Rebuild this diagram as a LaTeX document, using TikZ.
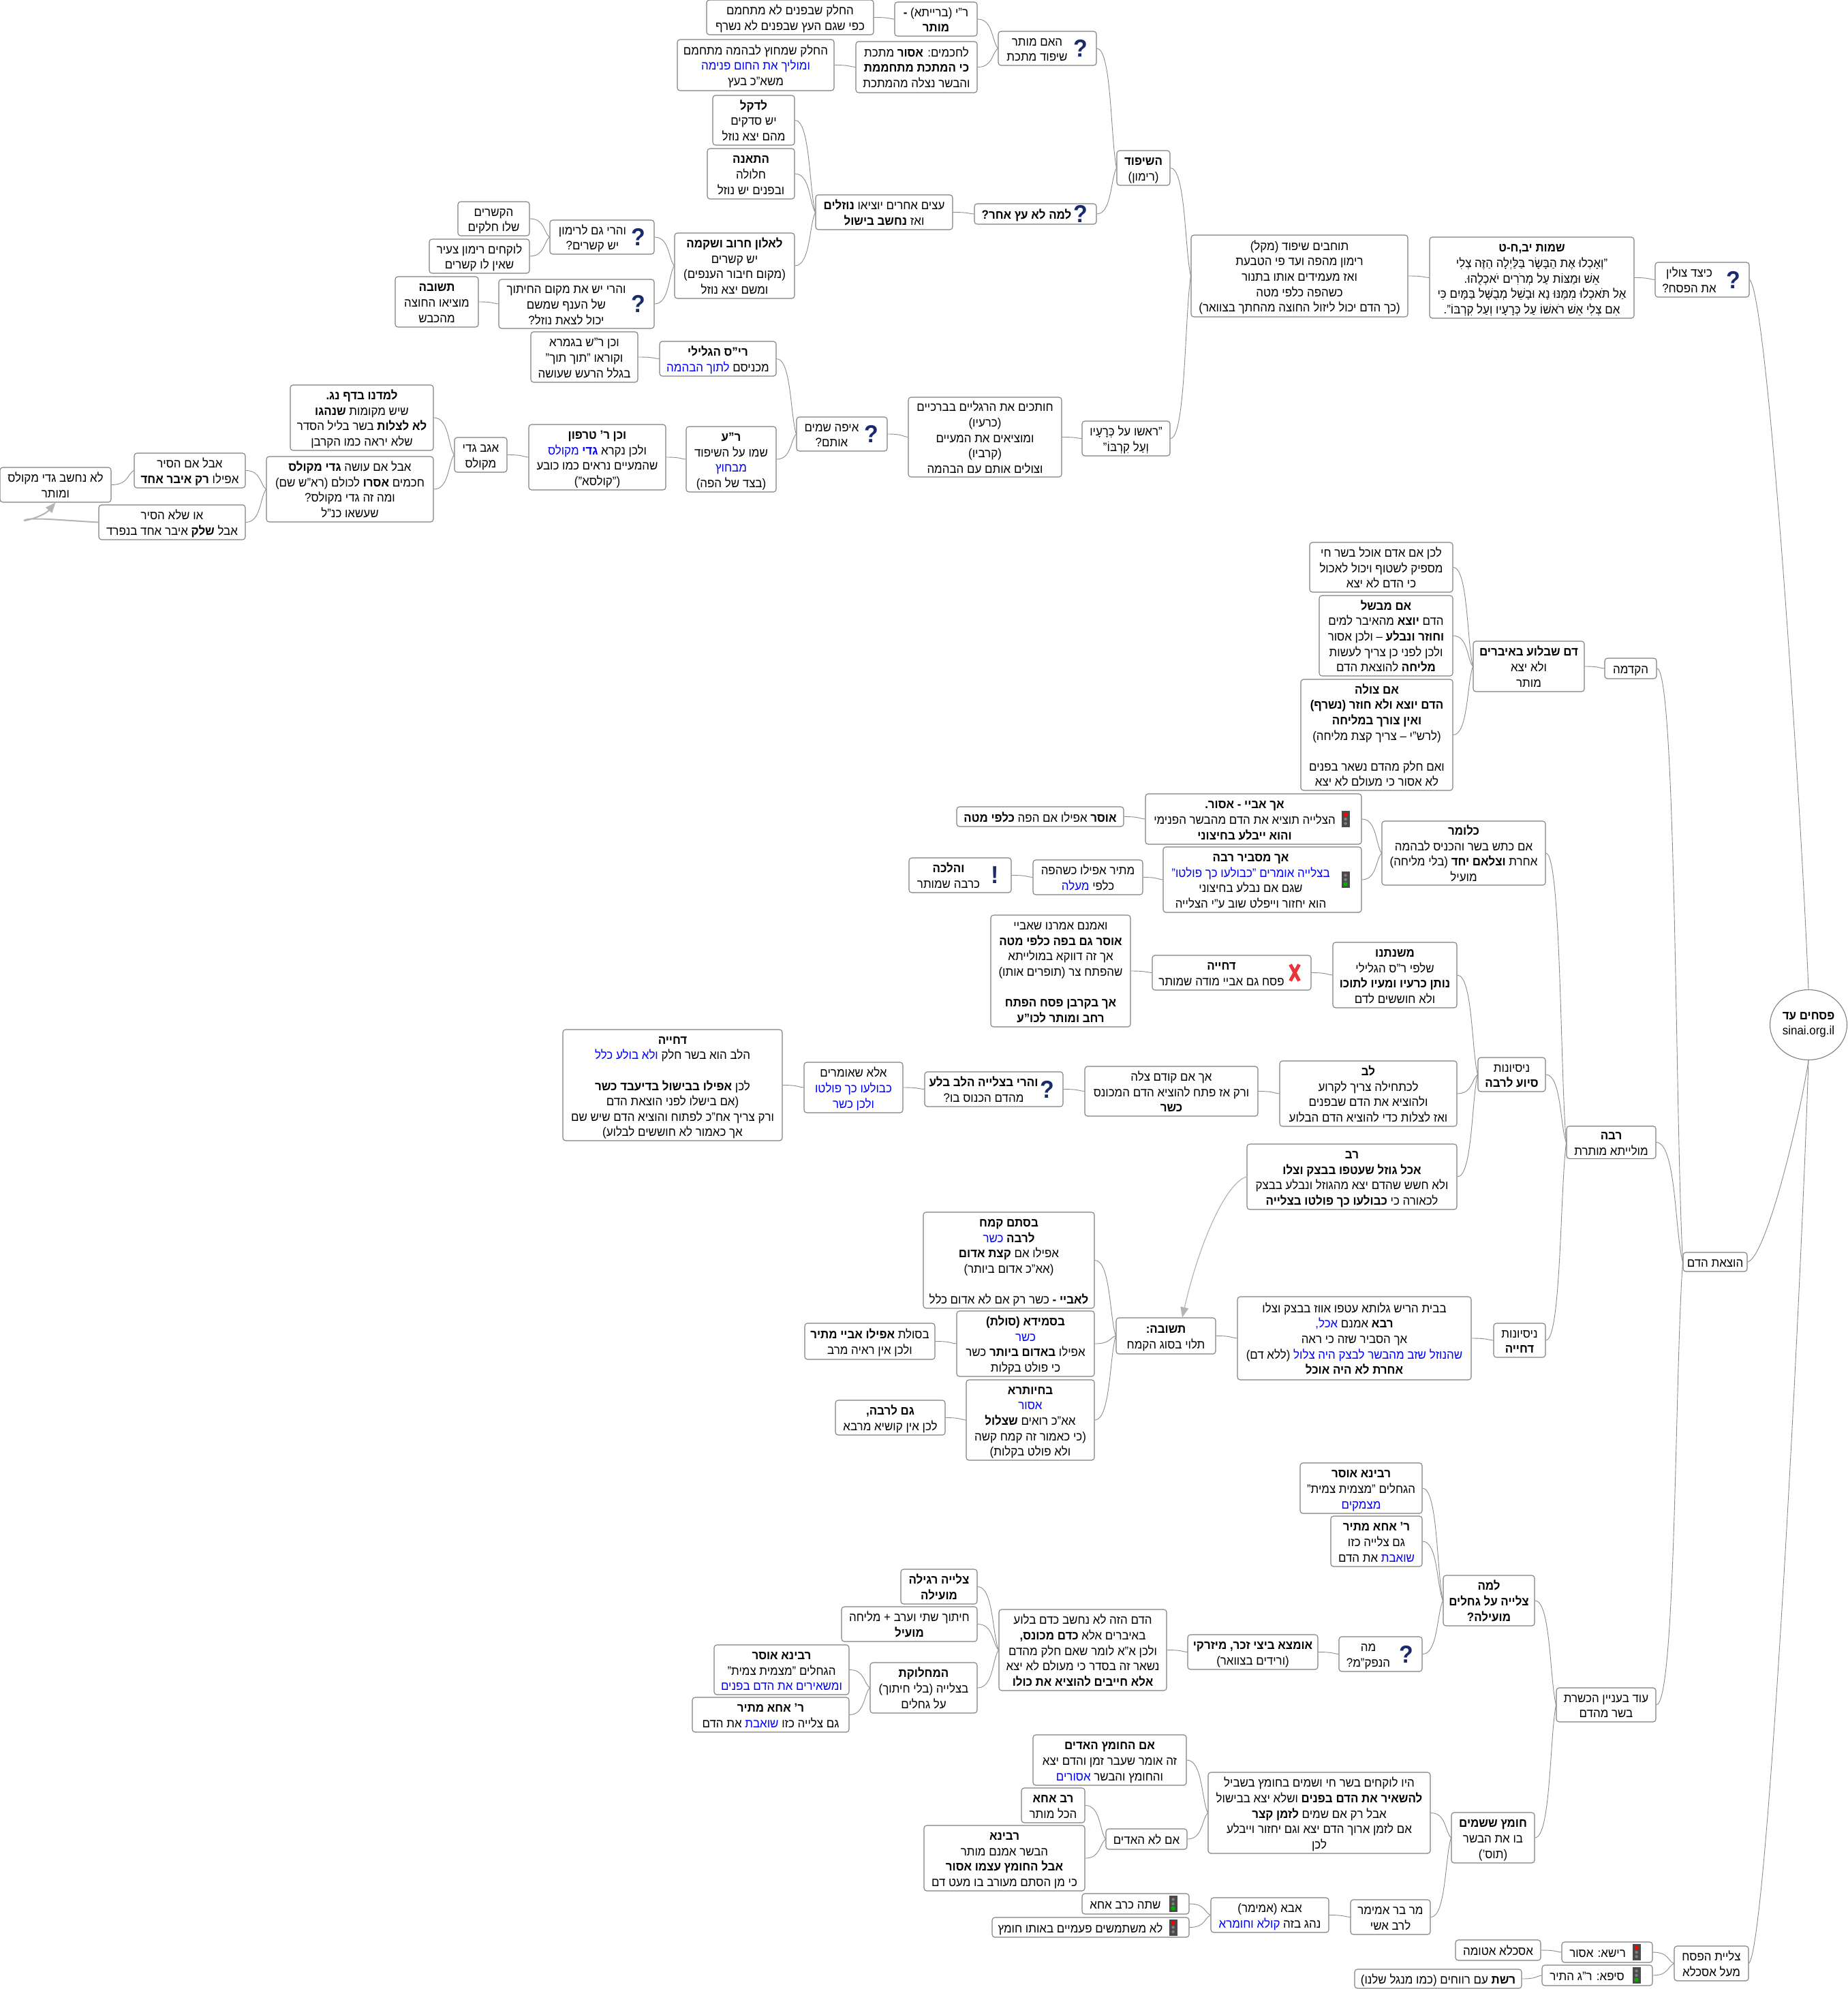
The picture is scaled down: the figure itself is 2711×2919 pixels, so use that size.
\documentclass[tikz,border=0pt]{standalone}
\usepackage{fontspec}
\setmainfont[Script=Hebrew,FakeStretch=0.94]{Liberation Sans}
\usetikzlibrary{calc,arrows.meta,shapes.geometric}
\TeXXeTstate=1
\newcommand\h[1]{\beginR #1\endR}
\newcommand\B[1]{\textbf{#1}}
\newcommand\C[1]{{\addfontfeature{Color=0000FF}#1}}
\newcommand\E{\mbox{}}
\newcommand\TT{\rule{0pt}{20pt}}
\newcommand\BB{\rule[-5pt]{0pt}{5pt}}
\tikzset{
 txts/.style={align=center,inner sep=0pt,font=\fontsize{18}{22.6}\selectfont,text=black},
 bxs/.style={txts,draw=boxgray,fill=white,rounded corners=4pt,line width=1.1pt},
 lnk/.style={draw=linkgray,line width=0.9pt},
 rel/.style={draw=relgray,line width=1.2pt,-{Triangle[length=15pt,width=12pt,fill=relgray]}},
 qm/.style={inner sep=0pt,font=\fontsize{36}{36}\selectfont\bfseries,text=iconblue},
 tl/.style={draw=none,fill=tlgray,minimum width=12pt,minimum height=24pt,inner sep=0pt}
}
\definecolor{boxgray}{HTML}{808080}
\definecolor{linkgray}{HTML}{8C8C8C}
\definecolor{relgray}{HTML}{B4B4B4}
\definecolor{iconblue}{HTML}{1A2B6D}
\definecolor{tlgray}{HTML}{4A4A4A}
\definecolor{xred}{HTML}{E8353A}
\newcommand\bx[6]{\node[bxs,minimum width={#4-#2},minimum height={#5-#3}] (#1) at ({(#2+#4)/2},{-(#3+#5)/2}) {\TT#6\BB};}
% box with an icon at its right end: text shifted left by #2
\newcommand\ibx[7]{\node[bxs,minimum width={#5-#3},minimum height={#6-#4}] (#1) at ({(#3+#5)/2},{-(#4+#6)/2}) {};
 \node[txts] (#1t) at ($(#1.center)+(#2,0)$) {\TT#7\BB};}
\newcommand\conn[2]{\draw[lnk] let \p1=(#1.east),\p2=(#2.west),\n1={\x2-\x1},\n2={\y2-\y1} in (\p1) .. controls +(0.75*\n1,0) and +(-0.3*\n1,-0.25*\n2) .. (\p2);}
\newcommand\connr[2]{\draw[lnk] let \p1=(#1.east),\p2=(#2),\n1={\x2-\x1},\n2={\y2-\y1} in (\p1) .. controls +(0.3*\n1,0.02*\n2) and +(-0.15*\n1,-0.3*\n2) .. (\p2);}
\newcommand\qmk[1]{\node[qm] (#1q) at ($(#1.east)+(-24,0)$) {?};}
\newcommand\tlr[1]{\node[tl] (#1l) at ($(#1.east)+(-24,0)$) {};
 \fill[red] ($(#1l.center)+(0,6.5)$) circle (3pt);
 \fill[gray] (#1l.center) circle (2.2pt);\fill[gray] ($(#1l.center)+(0,-6.5)$) circle (2.2pt);}
\newcommand\tlg[1]{\node[tl] (#1l) at ($(#1.east)+(-24,0)$) {};
 \fill[gray] ($(#1l.center)+(0,6.5)$) circle (2.2pt);
 \fill[gray] (#1l.center) circle (2.2pt);\fill[green!70!black] ($(#1l.center)+(0,-6.5)$) circle (3.2pt);}
\begin{document}
\begin{tikzpicture}[x=1pt,y=1pt]
\useasboundingbox (0,-2919) rectangle (2711,0);
\fill[white] (0,-2919) rectangle (2711,0);
% root
\node[draw=boxgray,fill=white,line width=1.1pt,ellipse,inner sep=0pt,minimum width=113pt,minimum height=103pt,align=center,font=\fontsize{18}{22.6}\selectfont] (root) at (2654,-1504) {\h{\B{פסחים עד}}\\\mbox{sinai.org.il}};
% ---- top branch
\ibx{ktz}{-19}{2429}{385}{2567}{436}{\h{כיצד צולין}\\\h{את הפסח?}}\qmk{ktz}
\bx{shmot}{2098}{348}{2398}{467}{\h{\B{שמות יב,ח-ט}}\\\h{"וְאָכְלוּ אֶת הַבָּשָׂר בַּלַּיְלָה הַזֶּה צְלִי}\\\h{אֵשׁ וּמַצּוֹת עַל מְרֹרִים יֹאכְלֻהוּ.}\\\h{אַל תֹּאכְלוּ מִמֶּנּוּ נָא וּבָשֵׁל מְבֻשָּׁל בַּמָּיִם כִּי}\\\h{אִם צְלִי אֵשׁ רֹאשׁוֹ עַל כְּרָעָיו וְעַל קִרְבּוֹ".}}
\bx{tochvim}{1748}{345}{2066}{465}{\h{תוחבים שיפוד (מקל)}\\\h{רימון מהפה ועד פי הטבעת}\\\h{ואז מעמידים אותו בתנור}\\\h{כשהפה כלפי מטה}\\\h{(כך הדם יכול ליזול החוצה מהחתך בצוואר)}}
\bx{hashipud}{1639}{221}{1717}{272}{\h{\B{השיפוד}}\\\h{(רימון)}}
\ibx{haim}{-15}{1465}{46}{1609}{96}{\h{האם מותר}\\\h{שיפוד מתכת}}\qmk{haim}
\bx{ri}{1313}{3}{1434}{53}{\h{ר"י (ברייתא) \B{-}}\\\h{\B{מותר}}}
\bx{hachamim}{1256}{61}{1434}{136}{\h{לחכמים: \B{אסור} מתכת}\\\h{\B{כי המתכת מתחממת}}\\\h{והבשר נצלה מהמתכת}}
\bx{helek}{1037}{0}{1282}{51}{\h{החלק שבפנים לא מתחמם}\\\h{כפי שגם העץ שבפנים לא נשרף}}
\bx{helekb}{994}{58}{1224}{133}{\h{החלק שמחוץ לבהמה מתחמם}\\\h{\C{ומוליך את החום פנימה}}\\\h{משא"כ בעץ}}
\ibx{lama}{-13}{1430}{299}{1609}{329}{\h{\B{למה לא עץ אחר?}}}\qmk{lama}
\bx{etzim}{1197}{286}{1398}{337}{\h{עצים אחרים יוציאו \B{נוזלים}}\\\h{ואז \B{נחשב בישול}}}
\bx{dekel}{1046}{140}{1166}{213}{\h{\B{לדקל}}\\\h{יש סדקים}\\\h{מהם יצא נוזל}}
\bx{teena}{1038}{218}{1166}{292}{\h{\B{התאנה}}\\\h{חלולה}\\\h{ובפנים יש נוזל}}
\bx{alon}{990}{342}{1166}{438}{\h{\B{לאלון חרוב ושקמה}}\\\h{יש קשרים}\\\h{(מקום חיבור הענפים)}\\\h{ומשם יצא נוזל}}
\ibx{hario}{-14}{807}{323}{960}{373}{\h{והרי גם לרימון}\\\h{יש קשרים?}}\qmk{hario}
\ibx{harib}{-15}{732}{410}{960}{482}{\h{והרי יש את מקום החיתוך}\\\h{של הענף שמשם}\\\h{יכול לצאת נוזל?}}\qmk{harib}
\bx{ksharim}{672}{296}{777}{346}{\h{הקשרים}\\\h{שלו חלקים}}
\bx{lokchim}{630}{351}{777}{401}{\h{לוקחים רימון צעיר}\\\h{שאין לו קשרים}}
\bx{tshuva}{580}{406}{702}{480}{\h{\B{תשובה}}\\\h{מוציאו החוצה}\\\h{מהכבש}}
\bx{rosho}{1588}{618}{1717}{669}{\h{"ראשו על כְּרָעָיו}\\\h{וְעַל קִרְבּוֹ"}}
\bx{hotchim}{1333}{583}{1558}{700}{\h{חותכים את הרגליים בברכיים}\\\h{(כרעיו)}\\\h{ומוציאים את המעיים}\\\h{(קרביו)}\\\h{וצולים אותם עם הבהמה}}
\ibx{eifo}{-15}{1169}{612}{1302}{662}{\h{איפה שמים}\\\h{אותם?}}\qmk{eifo}
\bx{ris}{968}{501}{1139}{552}{\h{\B{רי"ס הגלילי}}\\\h{מכניסם \C{לתוך הבהמה}}}
\bx{rs}{779}{487}{936}{561}{\h{וכן ר"ש בגמרא}\\\h{וקוראו "תוך תוך"}\\\h{בגלל הרעש שעושה}}
\bx{ra}{1007}{626}{1139}{722}{\h{\B{ר"ע}}\\\h{שמו על השיפוד}\\\h{\C{מבחוץ}}\\\h{(בצד של הפה)}}
\bx{tarfon}{776}{623}{977}{719}{\h{\B{וכן ר' טרפון}}\\\h{ולכן נקרא \C{\B{גדי} מקולס}}\\\h{שהמעיים נראים כמו כובע}\\\h{("קולסא")}}
\bx{agav}{667}{642}{744}{693}{\h{אגב גדי}\\\h{מקולס}}
\bx{lamadnu}{426}{565}{636}{661}{\h{\B{למדנו בדף נג.}}\\\h{שיש מקומות \B{שנהגו}}\\\h{\B{לא לצלות} בשר בליל הסדר}\\\h{שלא יראה כמו הקרבן}}
\bx{aval}{391}{670}{636}{766}{\h{אבל אם עושה \B{גדי מקולס}}\\\h{חכמים \B{אסרו} לכולם (רא"ש שם)}\\\h{ומה זה גדי מקולס?}\\\h{שעשאו כנ"ל}}
\bx{asir}{197}{665}{360}{716}{\h{אבל אם הסיר}\\\h{אפילו \B{רק איבר אחד}}}
\bx{oshelo}{145}{741}{360}{792}{\h{או שלא הסיר}\\\h{אבל \B{שלק} איבר אחד בנפרד}}
\bx{lonech}{0}{686}{163}{737}{\h{לא נחשב גדי מקולס}\\\h{ומותר}}
% ---- middle branch
\bx{hd}{2470}{1838}{2564}{1866}{\h{הוצאת הדם}}
\bx{hakdama}{2355}{966}{2431}{996}{\h{הקדמה}}
\bx{dam}{2162}{941}{2325}{1015}{\h{\B{דם שבלוע באיברים}}\\\h{ולא יצא}\\\h{מותר}}
\bx{lachen}{1922}{796}{2132}{869}{\h{לכן אם אדם אוכל בשר חי}\\\h{מספיק לשטוף ויכול לאכול}\\\h{כי הדם לא יצא}}
\bx{mevashel}{1936}{874}{2132}{992}{\h{\B{אם מבשל}}\\\h{הדם \B{יוצא} מהאיבר למים}\\\h{\B{וחוזר ונבלע} – ולכן אסור}\\\h{ולכן לפני כן צריך לעשות}\\\h{\B{מליחה} להוצאת הדם}}
\bx{tzole}{1909}{997}{2132}{1160}{\h{\B{אם צולה}}\\\h{\B{הדם יוצא ולא חוזר (נשרף)}}\\\h{\B{ואין צורך במליחה}}\\\h{(לרש"י – צריך קצת מליחה)}\\\E\\\h{ואם חלק מהדם נשאר בפנים}\\\h{לא אסור כי מעולם לא יצא}}
\bx{raba}{2299}{1653}{2430}{1700}{\h{\B{רבה}}\\\h{מולייתא מותרת}}
\bx{klomar}{2028}{1205}{2268}{1299}{\h{\B{כלומר}}\\\h{אם כתש בשר והכניס לבהמה}\\\h{אחרת \B{וצלאם יחד} (בלי מליחה)}\\\h{מועיל}}
\ibx{abaye}{-13}{1681}{1165}{1998}{1239}{\h{\B{אך אביי - אסור.}}\\\h{הצלייה תוציא את הדם מהבשר הפנימי}\\\h{\B{והוא ייבלע בחיצוני}}}\tlr{abaye}
\bx{oser}{1404}{1184}{1649}{1213}{\h{\B{אוסר} אפילו אם הפה \B{כלפי מטה}}}
\ibx{mesbir}{-17}{1707}{1243}{1998}{1339}{\h{\B{אך מסביר רבה}}\\\h{\C{בצלייה אומרים "כבולעו כך פולטו"}}\\\h{שגם אם נבלע בחיצוני}\\\h{הוא יחזור וייפלט שוב ע"י הצלייה}}\tlg{mesbir}
\bx{matir}{1516}{1262}{1677}{1313}{\h{מתיר אפילו כשהפה}\\\h{כלפי \C{מעלה}}}
\ibx{halacha}{-17}{1334}{1259}{1484}{1310}{\h{\B{והלכה}}\\\h{כרבה שמותר}}\node[qm] (halachaq) at ($(halacha.east)+(-24,0)$) {!};
\bx{nisa}{2169}{1552}{2268}{1602}{\h{ניסיונות}\\\h{\B{סיוע לרבה}}}
\bx{mish}{1956}{1383}{2138}{1479}{\h{\B{משנתנו}}\\\h{שלפי ר"ס הגלילי}\\\h{\B{נותן כרעיו ומעיו לתוכו}}\\\h{ולא חוששים לדם}}
\ibx{dch}{-15}{1691}{1402}{1924}{1453}{\h{\B{דחייה}}\\\h{פסח גם אביי מודה שמותר}}
\draw[xred,line width=5pt] ($(dch.east)+(-31,12)$) -- ($(dch.east)+(-18,-12)$) ($(dch.east)+(-18,12)$) -- ($(dch.east)+(-31,-12)$);
\bx{veum}{1454}{1343}{1659}{1507}{\h{ואמנם אמרנו שאביי}\\\h{\B{אוסר גם בפה כלפי מטה}}\\\h{אך זה דווקא במולייתא}\\\h{שהפתח צר (תופרים אותו)}\\\E\\\h{\B{אך בקרבן פסח הפתח}}\\\h{\B{רחב ומותר לכו"ע}}}
\bx{lev}{1878}{1557}{2138}{1653}{\h{\B{לב}}\\\h{לכתחילה צריך לקרוע}\\\h{ולהוציא את הדם שבפנים}\\\h{ואז לצלות כדי להוציא הדם הבלוע}}
\bx{achim}{1592}{1565}{1846}{1638}{\h{אך אם קודם צלה}\\\h{ורק אז פתח להוציא הדם המכונס}\\\h{\B{כשר}}}
\ibx{hariv}{-15}{1357}{1573}{1560}{1624}{\h{\B{והרי בצלייה הלב בלע}}\\\h{מהדם הכנוס בו?}}\qmk{hariv}
\bx{ela}{1180}{1559}{1325}{1633}{\h{אלא שאומרים}\\\h{\C{כבולעו כך פולטו}}\\\h{\C{ולכן כשר}}}
\bx{dchb}{826}{1511}{1148}{1674}{\h{\B{דחייה}}\\\h{הלב הוא בשר חלק \C{ולא בולע כלל}}\\\E\\\h{לכן \B{אפילו בבישול בדיעבד כשר}}\\\h{(אם בישלו לפני הוצאת הדם}\\\h{ורק צריך אח"כ לפתוח והוציא הדם שיש שם}\\\h{אך כאמור לא חוששים לבלוע)}}
\bx{rav}{1830}{1679}{2138}{1775}{\h{\B{רב}}\\\h{\B{אכל גוזל שעטפו בבצק וצלו}}\\\h{ולא חשש שהדם יצא מהגוזל ונבלע בבצק}\\\h{לכאורה כי \B{כבולעו כך פולטו בצלייה}}}
\bx{nisb}{2192}{1942}{2268}{1992}{\h{ניסיונות}\\\h{\B{דחייה}}}
\bx{beit}{1816}{1903}{2159}{2025}{\h{בבית הריש גלותא עטפו אווז בבצק וצלו}\\\h{\B{רבא} אמנם \C{אכל,}}\\\h{אך הסביר שזה כי ראה}\\\h{\C{שהנוזל שזב מהבשר לבצק היה צלול} (ללא דם)}\\\h{\B{אחרת לא היה אוכל}}}
\bx{tsb}{1638}{1934}{1784}{1987}{\h{\B{תשובה:}}\\\h{תלוי בסוג הקמח}}
\bx{stam}{1355}{1779}{1606}{1920}{\h{\B{בסתם קמח}}\\\h{\B{לרבה} \C{כשר}}\\\h{אפילו אם \B{קצת אדום}}\\\h{(אא"כ אדום ביותר)}\\\E\\\h{\B{לאביי -} כשר רק אם לא אדום כלל}}
\bx{smida}{1404}{1924}{1606}{2020}{\h{\B{בסמידא (סולת)}}\\\h{\C{כשר}}\\\h{אפילו \B{באדום ביותר} כשר}\\\h{כי פולט בקלות}}
\bx{solet}{1181}{1942}{1372}{1995}{\h{בסולת \B{אפילו אביי מתיר}}\\\h{ולכן אין ראיה מרב}}
\bx{chiv}{1418}{2025}{1606}{2143}{\h{\B{בחיותרא}}\\\h{\C{אסור}}\\\h{אא"כ רואים \B{שצלול}}\\\h{(כי כאמור זה קמח קשה}\\\h{ולא פולט בקלות)}}
\bx{gamr}{1226}{2055}{1387}{2106}{\h{\B{גם לרבה,}}\\\h{לכן אין קושיא מרבא}}
% ---- lower branch
\bx{od}{2284}{2477}{2430}{2527}{\h{עוד בעניין הכשרת}\\\h{בשר מהדם}}
\bx{lamab}{2118}{2312}{2252}{2386}{\h{\B{למה}}\\\h{\B{צלייה על גחלים}}\\\h{\B{מועילה?}}}
\bx{ravina}{1908}{2147}{2087}{2221}{\h{\B{רבינא אוסר}}\\\h{הגחלים "מצמית צמית"}\\\h{\C{מצמקים}}}
\bx{acha}{1953}{2225}{2087}{2299}{\h{\B{ר' אחא מתיר}}\\\h{גם צלייה כזו}\\\h{\C{שואבת} את הדם}}
\ibx{mah}{-18}{1965}{2402}{2087}{2453}{\h{מה}\\\h{הנפק"מ?}}\qmk{mah}
\bx{umtza}{1743}{2399}{1934}{2450}{\h{\B{אומצא ביצי זכר, מיזרקי}}\\\h{(ורידים בצוואר)}}
\bx{hadam}{1466}{2362}{1712}{2481}{\h{הדם הזה לא נחשב כדם בלוע}\\\h{באיברים אלא \B{כדם מכונס,}}\\\h{ולכן א"א לומר שאם חלק מהדם}\\\h{נשאר זה בסדר כי מעולם לא יצא}\\\h{\B{אלא חייבים להוציא את כולו}}}
\bx{tzl}{1322}{2303}{1434}{2354}{\h{\B{צלייה רגילה}}\\\h{\B{מועילה}}}
\bx{chit}{1235}{2358}{1434}{2409}{\h{חיתוך שתי וערב + מליחה}\\\h{\B{מועיל}}}
\bx{mach}{1277}{2440}{1434}{2514}{\h{\B{המחלוקת}}\\\h{בצלייה (בלי חיתוך)}\\\h{על גחלים}}
\bx{ravb}{1048}{2414}{1246}{2487}{\h{\B{רבינא אוסר}}\\\h{הגחלים "מצמית צמית"}\\\h{\C{ומשאירים את הדם בפנים}}}
\bx{achb}{1016}{2491}{1246}{2542}{\h{\B{ר' אחא מתיר}}\\\h{גם צלייה כזו \C{שואבת} את הדם}}
\bx{chom}{2130}{2660}{2252}{2734}{\h{\B{חומץ ששמים}}\\\h{בו את הבשר}\\\h{(תוס')}}
\bx{hayu}{1773}{2601}{2099}{2720}{\h{היו לוקחים בשר חי ושמים בחומץ בשביל}\\\h{\B{להשאיר את הדם בפנים} ושלא יצא בבישול}\\\h{אבל רק אם שמים \B{לזמן קצר}}\\\h{אם לזמן ארוך הדם יצא וגם יחזור וייבלע}\\\h{לכן}}
\bx{imch}{1516}{2546}{1741}{2620}{\h{\B{אם החומץ האדים}}\\\h{זה אומר שעבר זמן והדם יצא}\\\h{והחומץ והבשר \C{אסורים}}}
\bx{imlo}{1623}{2684}{1742}{2714}{\h{אם לא האדים}}
\bx{rava}{1499}{2624}{1592}{2675}{\h{\B{רב אחא}}\\\h{הכל מותר}}
\bx{ravc}{1356}{2679}{1592}{2775}{\h{\B{רבינא}}\\\h{הבשר אמנם מותר}\\\h{\B{אבל החומץ עצמו אסור}}\\\h{כי מן הסתם מעורב בו מעט דם}}
\bx{mar}{1982}{2788}{2099}{2839}{\h{מר בר אמימר}\\\h{לרב אשי}}
\bx{abba}{1777}{2785}{1950}{2836}{\h{אבא (אמימר)}\\\h{נהג בזה \C{קולא וחומרא}}}
\ibx{shata}{-15}{1588}{2779}{1745}{2809}{\h{שתה כרב אחא}}\tlg{shata}
\ibx{lomish}{-15}{1456}{2814}{1745}{2843}{\h{לא משתמשים פעמיים באותו חומץ}}\tlr{lomish}
% ---- bottom
\bx{tzp}{2457}{2856}{2566}{2907}{\h{צליית הפסח}\\\h{מעל אסכלא}}
\ibx{risha}{-14}{2292}{2850}{2425}{2880}{\h{רישא: אסור}}\tlr{risha}
\ibx{sifa}{-15}{2263}{2884}{2425}{2914}{\h{סיפא: ר"ג התיר}}\tlg{sifa}
\bx{askala}{2136}{2847}{2261}{2877}{\h{אסכלא אטומה}}
\bx{reshet}{1988}{2890}{2233}{2918}{\h{\B{רשת} עם רווחים (כמו מנגל שלנו)}}
% ---- connectors
\connr{ktz}{root.north}\connr{hd}{root.south}\connr{tzp}{root.south}
\conn{shmot}{ktz}\conn{tochvim}{shmot}\conn{hashipud}{tochvim}\conn{rosho}{tochvim}
\conn{haim}{hashipud}\conn{lama}{hashipud}\conn{ri}{haim}\conn{hachamim}{haim}\conn{helek}{ri}\conn{helekb}{hachamim}
\conn{etzim}{lama}\conn{dekel}{etzim}\conn{teena}{etzim}\conn{alon}{etzim}
\conn{hario}{alon}\conn{harib}{alon}\conn{ksharim}{hario}\conn{lokchim}{hario}\conn{tshuva}{harib}
\conn{hotchim}{rosho}\conn{eifo}{hotchim}\conn{ris}{eifo}\conn{ra}{eifo}\conn{rs}{ris}\conn{tarfon}{ra}\conn{agav}{tarfon}
\conn{lamadnu}{agav}\conn{aval}{agav}\conn{asir}{aval}\conn{oshelo}{aval}\conn{lonech}{asir}
\conn{hakdama}{hd}\conn{raba}{hd}\conn{od}{hd}
\conn{dam}{hakdama}\conn{lachen}{dam}\conn{mevashel}{dam}\conn{tzole}{dam}
\conn{klomar}{raba}\conn{nisa}{raba}\conn{nisb}{raba}
\conn{abaye}{klomar}\conn{mesbir}{klomar}\conn{oser}{abaye}\conn{matir}{mesbir}\conn{halacha}{matir}
\conn{mish}{nisa}\conn{lev}{nisa}\conn{rav}{nisa}\conn{dch}{mish}\conn{veum}{dch}
\conn{achim}{lev}\conn{hariv}{achim}\conn{ela}{hariv}\conn{dchb}{ela}
\conn{beit}{nisb}\conn{tsb}{beit}\conn{stam}{tsb}\conn{smida}{tsb}\conn{chiv}{tsb}\conn{solet}{smida}\conn{gamr}{chiv}
\conn{lamab}{od}\conn{chom}{od}\conn{ravina}{lamab}\conn{acha}{lamab}\conn{mah}{lamab}\conn{umtza}{mah}\conn{hadam}{umtza}
\conn{tzl}{hadam}\conn{chit}{hadam}\conn{mach}{hadam}\conn{ravb}{mach}\conn{achb}{mach}
\conn{hayu}{chom}\conn{mar}{chom}\conn{imch}{hayu}\conn{imlo}{hayu}\conn{rava}{imlo}\conn{ravc}{imlo}
\conn{abba}{mar}\conn{shata}{abba}\conn{lomish}{abba}
\conn{risha}{tzp}\conn{sifa}{tzp}\conn{askala}{risha}\conn{reshet}{sifa}
% relation arrows
\draw[rel,line width=2pt] (oshelo.west) .. controls +(-40,2) and (60,-760) .. (40,-762) .. controls (22,-768) and (62,-760) .. (lonech.south);
\coordinate (tsbtop) at ($(tsb.north)+(24,0)$);
\draw[rel] (rav.west) .. controls +(-30,-8) and +(25,110) .. (tsbtop);
\end{tikzpicture}
\end{document}
